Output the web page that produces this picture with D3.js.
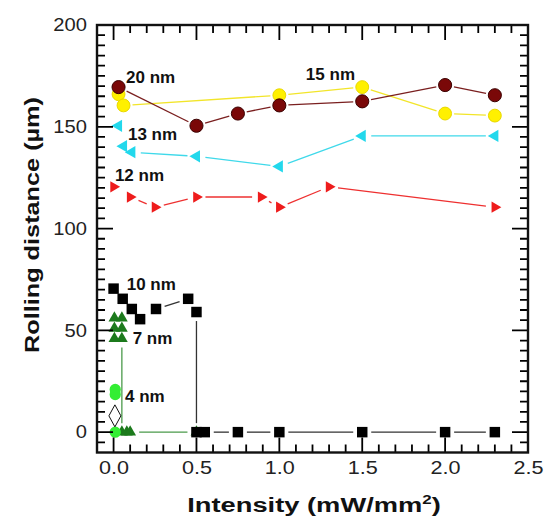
<!DOCTYPE html>
<html>
<head>
<meta charset="utf-8">
<script src="https://cdn.jsdelivr.net/npm/d3@7"></script>
<style>
  body { margin: 0; background: #fff; }
  svg { font-family: "Liberation Sans", Arial, sans-serif; }
</style>
</head>
<body>
<svg id="chart" width="544" height="517"></svg>
<script>
// series values (x: intensity in mW/mm2, y: rolling distance in um)
const nm20X = [0.03, 0.5, 0.75, 1.0, 1.5, 2.0, 2.3];
const nm20Y = [169.5, 150.5, 156.5, 160.5, 162.5, 170.5, 165.5];

const nm15X = [0.03, 0.06, 1.0, 1.5, 2.0, 2.3];
const nm15Y = [166, 160.5, 165.5, 169.5, 156.5, 155.5];

const nm13X = [0.06, 0.11, 0.5, 1.0, 1.5, 2.3];
const nm13Y = [140.5, 137.5, 135.5, 130.5, 145.5, 145.5];
const nm13LoneX = [0.03];
const nm13LoneY = [150.5];

const nm12X = [0.1, 0.25, 0.5, 0.89, 1.0, 1.3, 2.3];
const nm12Y = [115.5, 110.5, 115.5, 115.5, 110.5, 120.5, 110.5];
const nm12LoneX = [0.0];
const nm12LoneY = [120.5];

const nm10X = [0.0, 0.055, 0.11, 0.16, 0.256, 0.45, 0.5, 0.5, 0.55, 0.75, 1.0, 1.5, 2.0, 2.3];
const nm10Y = [70.5, 65.5, 60.5, 55.5, 60.5, 65.5, 59, 0, 0, 0, 0, 0, 0, 0];

const nm7X = [0.05, 0.05, 0.08, 0.1, 0.5];
const nm7Y = [46, 0, 0, 0, 0];
const nm7LoneX = [0.005, 0.005, 0.005, 0.05, 0.05];
const nm7LoneY = [56, 51, 46, 56, 51];

const nm4X = [0.01, 0.01, 0.01];
const nm4Y = [21, 18.5, 0];

const openX = [0.008];
const openY = [8];

const labelText = ["20 nm", "15 nm", "13 nm", "12 nm", "10 nm", "7 nm", "4 nm"];
const labelX = [0.075, 1.16, 0.087, 0.008, 0.079, 0.115, 0.069];
const labelY = [171.5, 173, 143.5, 123.3, 69.8, 43.3, 15];

const xTicks = [0, 0.5, 1.0, 1.5, 2.0, 2.5];
const yTicks = [0, 50, 100, 150, 200];

const svg = d3.select("#chart");
const pLeft = 97, pRight = 528, pTop = 25, pBottom = 452.5;

const x = d3.scaleLinear().domain([-0.1, 2.5]).range([pLeft, pRight]);
const y = d3.scaleLinear().domain([-10, 200]).range([pBottom, pTop]);

const zip = (xs, ys) => xs.map((v, i) => [v, ys[i]]);

// lines stop short of the markers, like the original plot
function drawLine(xs, ys, color, gap) {
  const pts = zip(xs, ys).map(d => [x(d[0]), y(d[1])]);
  const segs = [];
  for (let i = 0; i < pts.length - 1; i++) {
    const [x0, y0] = pts[i], [x1, y1] = pts[i + 1];
    const len = Math.hypot(x1 - x0, y1 - y0);
    if (len <= 2 * gap + 1) continue;
    const ux = (x1 - x0) / len, uy = (y1 - y0) / len;
    segs.push([[x0 + ux * gap, y0 + uy * gap], [x1 - ux * gap, y1 - uy * gap]]);
  }
  svg.append("g").selectAll("line")
    .data(segs)
    .enter()
    .append("line")
    .attr("x1", d => d[0][0]).attr("y1", d => d[0][1])
    .attr("x2", d => d[1][0]).attr("y2", d => d[1][1])
    .attr("stroke", color)
    .attr("stroke-width", 1.3);
}

function drawMarks(xs, ys, type, size, rotate, fill, stroke) {
  const sym = d3.symbol().type(type).size(size);
  svg.append("g").selectAll("path")
    .data(zip(xs, ys))
    .enter()
    .append("path")
    .attr("d", sym)
    .attr("transform", d => `translate(${x(d[0])},${y(d[1])}) rotate(${rotate})`)
    .attr("fill", fill)
    .attr("stroke", stroke || "none")
    .attr("stroke-width", 1);
}

// tall open diamond
const tallDiamond = {
  draw(ctx, size) {
    const w = 6, h = 11;
    ctx.moveTo(0, -h); ctx.lineTo(w, 0); ctx.lineTo(0, h); ctx.lineTo(-w, 0); ctx.closePath();
  }
};

// tick labels
svg.append("g")
  .attr("transform", `translate(0,${pBottom})`)
  .call(d3.axisBottom(x).tickValues(xTicks).tickSize(0).tickPadding(9).tickFormat(d3.format(".1f")))
  .call(g => g.select(".domain").remove())
  .call(g => g.selectAll("text")
    .attr("font-size", 18).attr("font-family", null).attr("fill", "#222")
    .attr("transform", "scale(1.2,1)"));

svg.append("g")
  .attr("transform", `translate(${pLeft},0)`)
  .call(d3.axisLeft(y).tickValues(yTicks).tickSize(0).tickPadding(9))
  .call(g => g.select(".domain").remove())
  .call(g => g.selectAll("text")
    .attr("font-size", 18).attr("font-family", null).attr("fill", "#222")
    .attr("transform", "scale(1.12,1)"));

// axis titles
const xt = svg.append("text")
  .attr("transform", "translate(314,512) scale(1.3,1)")
  .attr("text-anchor", "middle")
  .attr("font-size", 21).attr("font-weight", "bold").attr("fill", "#111");
xt.append("tspan").text("Intensity (mW/mm");
xt.append("tspan").attr("font-size", 13).attr("dy", -8).text("2");
xt.append("tspan").attr("dy", 8).text(")");

svg.append("text")
  .attr("transform", "translate(39,225) rotate(-90)")
  .attr("text-anchor", "middle")
  .attr("font-size", 21).attr("font-weight", "bold").attr("fill", "#111")
  .attr("textLength", 256).attr("lengthAdjust", "spacingAndGlyphs")
  .text("Rolling distance (\u00b5m)");

// series
const gap = 9;
drawLine(nm15X, nm15Y, "#f2e52a", gap);
drawMarks(nm15X, nm15Y, d3.symbolCircle, 130, 0, "#fff000", "#e8d800");

drawLine(nm20X, nm20Y, "#7a1f1f", gap);
drawMarks(nm20X, nm20Y, d3.symbolCircle, 135, 0, "#7a0808", "#3a0000");

drawLine(nm13X, nm13Y, "#3fd9ea", gap);
drawMarks(nm13X, nm13Y, d3.symbolTriangle, 65, -90, "#22d8ec");
drawMarks(nm13LoneX, nm13LoneY, d3.symbolTriangle, 65, -90, "#22d8ec");

drawLine(nm12X, nm12Y, "#ee3030", gap);
drawMarks(nm12X, nm12Y, d3.symbolTriangle, 55, 90, "#ee1c1c");
drawMarks(nm12LoneX, nm12LoneY, d3.symbolTriangle, 55, 90, "#ee1c1c");

drawLine(nm7X, nm7Y, "#4a9a4a", gap);
drawMarks(nm7X, nm7Y, d3.symbolTriangle, 60, 0, "#1c7a1c");
drawMarks(nm7LoneX, nm7LoneY, d3.symbolTriangle, 60, 0, "#1c7a1c");

drawLine(nm10X, nm10Y, "#333", gap);
drawMarks(nm10X, nm10Y, d3.symbolSquare, 110, 0, "#000");

drawMarks(nm4X, nm4Y, d3.symbolCircle, 100, 0, "#33ee33");

drawMarks(openX, openY, tallDiamond, 0, 0, "none", "#111");

// size labels
svg.append("g").selectAll("text")
  .data(labelText)
  .enter()
  .append("text")
  .attr("x", (d, i) => x(labelX[i])).attr("y", (d, i) => y(labelY[i]))
  .attr("font-size", 17).attr("font-weight", "bold").attr("fill", "#111")
  .text(d => d);

// inward ticks on all four sides, drawn last as one path so nothing covers them
const xMinor = d3.range(0, 25).map(i => i / 10).filter(v => !xTicks.some(t => Math.abs(t - v) < 1e-6));
const yMinor = d3.range(-5, 200, 5).filter(v => v % 50 !== 0);

const tp = d3.path();
[[xTicks, 15], [xMinor, 8]].forEach(([vals, len]) => {
  vals.forEach(v => {
    tp.moveTo(x(v), pBottom); tp.lineTo(x(v), pBottom - len);
    tp.moveTo(x(v), pTop); tp.lineTo(x(v), pTop + len);
  });
});
[[yTicks, 16], [yMinor, 8]].forEach(([vals, len]) => {
  vals.forEach(v => {
    tp.moveTo(pLeft, y(v)); tp.lineTo(pLeft + len, y(v));
    tp.moveTo(pRight, y(v)); tp.lineTo(pRight - len, y(v));
  });
});
svg.append("path")
  .attr("d", tp.toString())
  .attr("fill", "none")
  .attr("stroke", "#000")
  .attr("stroke-width", 1.8);

// frame
svg.append("rect")
  .attr("x", pLeft).attr("y", pTop)
  .attr("width", pRight - pLeft).attr("height", pBottom - pTop)
  .attr("fill", "none").attr("stroke", "#111").attr("stroke-width", 2.4);
</script>
</body>
</html>
